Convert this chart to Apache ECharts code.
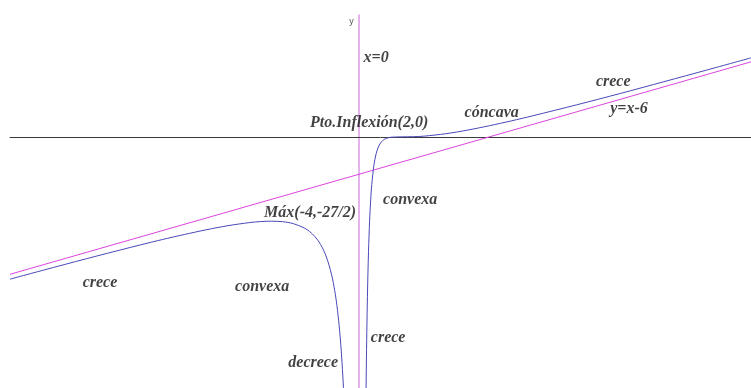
<!DOCTYPE html>
<html>
<head>
    <meta charset="UTF-8">
    <title>Asíntotas y curvatura</title>
    <script type="text/javascript" src="https://cdn.jsdelivr.net/npm/echarts@6/dist/echarts.min.js"></script>
</head>
<body style="margin: 0; background: #fff">
<div id="container" style="width: 751px; height: 388px"></div>
<script type="text/javascript">
    // rama izquierda de la curva (x < 0)
    const leftX = [-16, -14, -12, -10, -9, -8, -7, -6, -5, -4.5, -4, -3.5, -3.25, -3, -2.5, -2.25, -2, -1.75, -1.5, -1.25, -1.1, -1, -0.9, -0.8, -0.7, -0.6];
    const leftY = [-22.78, -20.90, -19.06, -17.28, -16.43, -15.63, -14.88, -14.22, -13.72, -13.56, -13.5, -13.58, -13.70, -13.89, -14.58, -15.16, -16, -17.22, -19.06, -21.97, -24.62, -27, -30.11, -34.3, -40.17, -48.8];
    // rama derecha (x > 0)
    const rightX = [0.25, 0.3, 0.35, 0.4, 0.45, 0.5, 0.55, 0.6, 0.7, 0.8, 0.9, 1, 1.1, 1.2, 1.35, 1.5, 2, 2.5, 3, 4, 5, 6, 7, 8, 10, 12, 14, 16, 18];
    const rightY = [-85.75, -54.59, -36.67, -25.6, -18.39, -13.5, -10.08, -7.62, -4.48, -2.7, -1.64, -1, -0.6, -0.36, -0.15, -0.06, 0, 0.02, 0.11, 0.5, 1.08, 1.78, 2.55, 3.38, 5.12, 6.94, 8.82, 10.72, 12.64];
    // asíntota oblicua y = x - 6
    const asymX = [-16, 18];
    const asymY = [-22, 12];
    // rótulos
    const notes = ['x=0', 'Pto.Inflexión(2,0)', 'cóncava', 'crece', 'y=x-6', 'convexa', 'Máx(-4,-27/2)', 'convexa', 'crece', 'decrece', 'crece'];
    const notesX = [0.80, 0.48, 6.10, 11.68, 12.40, 2.36, -2.23, -4.43, 1.35, -2.09, -11.87];
    const notesY = [12.65, 2.3, 3.85, 8.8, 4.5, -10.12, -12.2, -23.95, -32.2, -36.15, -23.3];

    const zip = (xs, ys) => xs.map((x, i) => [x, ys[i]]);

    const dom = document.getElementById("container");
    const myChart = echarts.init(dom);
    const option = {
        animation: false,
        grid: {left: 10, right: 0, top: 15, bottom: 0},
        xAxis: {
            type: 'value',
            min: -16,
            max: 18,
            axisLine: {onZero: true, lineStyle: {color: '#3a3a3a', width: 1}},
            axisTick: {show: false},
            axisLabel: {show: false},
            splitLine: {show: false}
        },
        yAxis: {
            type: 'value',
            min: -40.2,
            max: 19.5,
            name: 'y',
            nameLocation: 'end',
            nameGap: -7,
            nameTextStyle: {fontSize: 9, color: '#555', align: 'right', verticalAlign: 'middle', padding: [0, 5, 0, 0]},
            axisLine: {show: true, onZero: true, lineStyle: {color: '#dd99e6', width: 1.5}},
            axisTick: {show: false},
            axisLabel: {show: false},
            splitLine: {show: false}
        },
        series: [{
            name: 'asintota',
            type: 'line',
            showSymbol: false,
            silent: true,
            lineStyle: {color: '#dd44dd', width: 1},
            data: zip(asymX, asymY)
        }, {
            name: 'izquierda',
            type: 'line',
            showSymbol: false,
            silent: true,
            smooth: 0.3,
            lineStyle: {color: '#4848b8', width: 1},
            data: zip(leftX, leftY)
        }, {
            name: 'derecha',
            type: 'line',
            showSymbol: false,
            silent: true,
            smooth: 0.3,
            lineStyle: {color: '#4848b8', width: 1},
            data: zip(rightX, rightY)
        }, {
            name: 'rotulos',
            type: 'scatter',
            symbolSize: 0,
            silent: true,
            label: {
                show: true,
                position: 'inside',
                formatter: '{b}',
                color: '#111',
                fontFamily: 'Liberation Serif',
                fontStyle: 'italic',
                fontWeight: 'bold',
                fontSize: 16
            },
            data: notes.map((t, i) => ({name: t, value: [notesX[i], notesY[i]]}))
        }]
    };
    myChart.setOption(option, true);
</script>
</body>
</html>
